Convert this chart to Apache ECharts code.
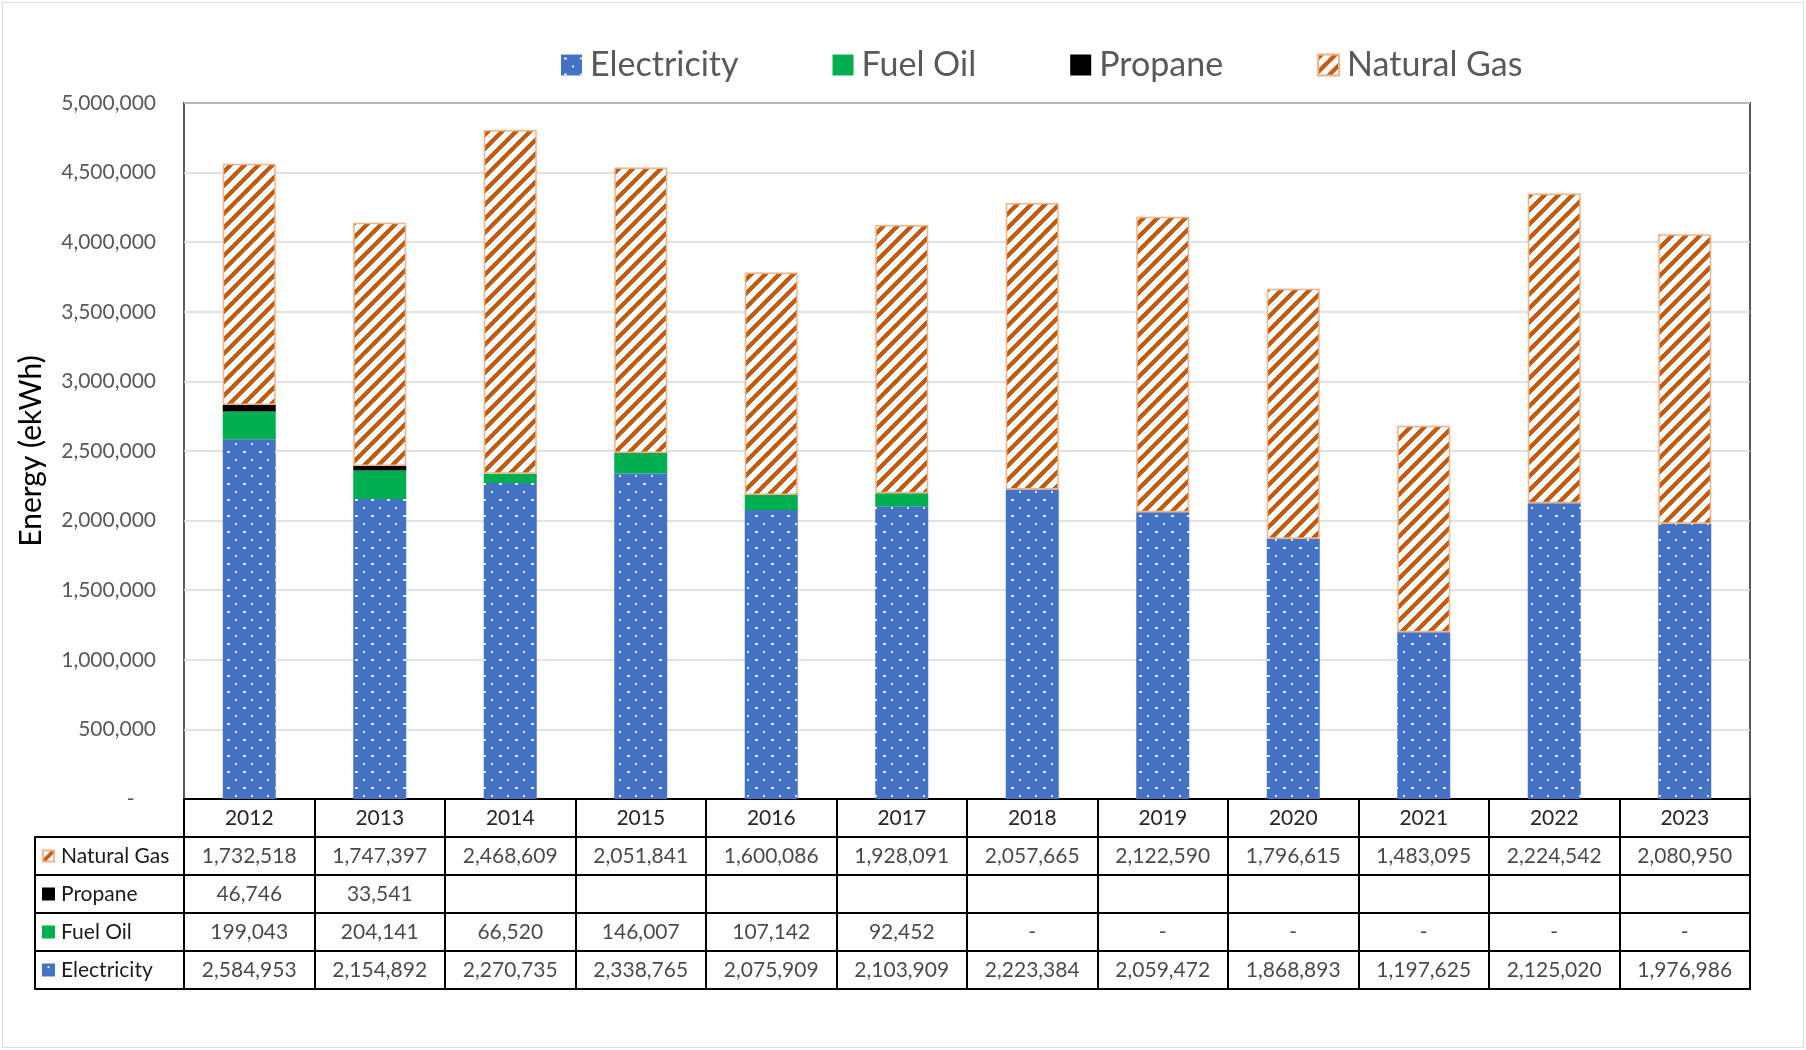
<!DOCTYPE html>
<html>
<head>
<meta charset="utf-8">
<title>Energy (ekWh)</title>
<script src="https://cdn.jsdelivr.net/npm/echarts@6/dist/echarts.min.js"></script>
<style>
  html, body { margin: 0; padding: 0; background: #fff; }
  #main { width: 1806px; height: 1050px; }
  #frame { position: absolute; left: 2px; top: 2px; width: 1800px; height: 1044px; border: 1px solid #dcdcdc; pointer-events: none; }
</style>
</head>
<body>
<div id="main"></div>
<div id="frame"></div>
<script>
  let years = ["2012", "2013", "2014", "2015", "2016", "2017", "2018", "2019", "2020", "2021", "2022", "2023"];
  let electricity = [2584953, 2154892, 2270735, 2338765, 2075909, 2103909, 2223384, 2059472, 1868893, 1197625, 2125020, 1976986];
  let fuelOil = [199043, 204141, 66520, 146007, 107142, 92452, 0, 0, 0, 0, 0, 0];
  let propane = [46746, 33541, null, null, null, null, null, null, null, null, null, null];
  let naturalGas = [1732518, 1747397, 2468609, 2051841, 1600086, 1928091, 2057665, 2122590, 1796615, 1483095, 2224542, 2080950];
  // table rows, top to bottom
  let tableRows = ["Natural Gas", "Propane", "Fuel Oil", "Electricity"];

  const FONT = "Lato";
  const BLUE = "#4472C4";
  const GREEN = "#00B050";
  const ORANGE = "#C55A11";
  const ORANGE_LIGHT = "#F4B183";

  // dotted fill for electricity
  function dotPattern() {
    let c = document.createElement("canvas");
    c.width = 16;
    c.height = 16;
    let ctx = c.getContext("2d");
    ctx.fillStyle = BLUE;
    ctx.fillRect(0, 0, 16, 16);
    ctx.fillStyle = "rgba(255,255,255,0.85)";
    ctx.fillRect(3, 3, 3, 2);
    ctx.fillRect(11, 11, 2, 2);
    return c;
  }

  // wide upward diagonal for natural gas
  function stripePattern() {
    let n = 14;
    let c = document.createElement("canvas");
    c.width = n;
    c.height = n;
    let ctx = c.getContext("2d");
    ctx.fillStyle = "#fff";
    ctx.fillRect(0, 0, n, n);
    ctx.fillStyle = ORANGE;
    for (let x = 0; x < n; x++) {
      for (let y = 0; y < n; y++) {
        if ((x + y) % n < 6) ctx.fillRect(x, y, 1, 1);
      }
    }
    return c;
  }

  function gasIcon() {
    let c = document.createElement("canvas");
    c.width = 14;
    c.height = 14;
    let ctx = c.getContext("2d");
    ctx.fillStyle = "#fff";
    ctx.fillRect(0, 0, 14, 14);
    ctx.strokeStyle = ORANGE;
    ctx.lineWidth = 4;
    ctx.beginPath();
    ctx.moveTo(2, 12);
    ctx.lineTo(12, 2);
    ctx.stroke();
    ctx.strokeStyle = ORANGE_LIGHT;
    ctx.lineWidth = 2;
    ctx.strokeRect(1, 1, 12, 12);
    return c;
  }

  function elecIcon() {
    let c = document.createElement("canvas");
    c.width = 14;
    c.height = 14;
    let ctx = c.getContext("2d");
    ctx.fillStyle = BLUE;
    ctx.fillRect(0, 0, 14, 14);
    ctx.fillStyle = "#fff";
    ctx.fillRect(6, 3, 2, 2);
    return c;
  }

  let rowValues = {
    "Natural Gas": naturalGas,
    "Propane": propane,
    "Fuel Oil": fuelOil,
    "Electricity": electricity,
  };
  let rowIcon = {
    "Natural Gas": "ng",
    "Propane": "pr",
    "Fuel Oil": "fo",
    "Electricity": "el",
  };

  // cells for the data table
  let cells = [];
  for (let r = 0; r < tableRows.length; r++) {
    let vals = rowValues[tableRows[r]];
    for (let i = 0; i < years.length; i++) {
      if (vals[i] === null) continue;
      cells.push([years[i], tableRows[r], vals[i]]);
    }
  }

  function fmt(v) {
    return v === 0 ? "-" : v.toLocaleString("en-US");
  }

  let chart = echarts.init(document.getElementById("main"));

  let iconBox = { width: 13, height: 13 };
  let option = {
    animation: false,
    textStyle: { fontFamily: FONT },
    legend: {
      data: ["Electricity", "Fuel Oil", "Propane", "Natural Gas"],
      left: 556,
      top: 43,
      itemWidth: 21,
      itemHeight: 21,
      itemGap: 94,
      icon: "rect",
      textStyle: { fontSize: 34, color: "#595959", fontFamily: FONT, padding: [0, 0, 0, 3] },
    },
    grid: [
      { left: 184, right: 56, top: 103, bottom: 251, show: true, borderColor: "#595959", borderWidth: 2 },
      { left: 184, right: 56, top: 837, height: 152, show: true, borderColor: "#000", borderWidth: 2 },
    ],
    xAxis: [
      {
        type: "category",
        gridIndex: 0,
        data: years,
        axisLine: { lineStyle: { color: "#000", width: 2 } },
        axisTick: { show: true, length: 38, interval: 0, lineStyle: { color: "#000", width: 2 } },
        axisLabel: { interval: 0, margin: 9, fontSize: 21, color: "#262626", fontFamily: FONT },
      },
      {
        type: "category",
        gridIndex: 1,
        data: years,
        axisLine: { show: false },
        axisTick: { show: false },
        axisLabel: { show: false },
        splitLine: { show: true, interval: 0, lineStyle: { color: "#000", width: 2 } },
      },
    ],
    yAxis: [
      {
        type: "value",
        gridIndex: 0,
        min: 0,
        max: 5000000,
        interval: 500000,
        name: "Energy (ekWh)",
        nameLocation: "middle",
        nameGap: 138,
        nameTextStyle: { fontSize: 30, color: "#000", fontFamily: FONT },
        axisLine: { show: false },
        axisTick: { show: false },
        axisLabel: {
          margin: 28,
          fontSize: 21,
          color: "#595959",
          fontFamily: FONT,
          formatter: function (v) {
            return v === 0 ? "-    " : v.toLocaleString("en-US");
          },
        },
        splitLine: { lineStyle: { color: "#D9D9D9", width: 1.5 } },
      },
      {
        type: "category",
        gridIndex: 1,
        data: tableRows,
        inverse: true,
        axisLine: { lineStyle: { color: "#000", width: 2 } },
        axisTick: { show: true, length: 149, interval: 0, lineStyle: { color: "#000", width: 2 } },
        splitLine: { show: true, interval: 0, lineStyle: { color: "#000", width: 2 } },
        axisLabel: {
          interval: 0,
          align: "left",
          margin: 142,
          fontSize: 21,
          color: "#1a1a1a",
          fontFamily: FONT,
          formatter: function (name) {
            return "{" + rowIcon[name] + "|}{t|" + name + "}";
          },
          rich: {
            ng: Object.assign({ backgroundColor: { image: gasIcon() } }, iconBox),
            pr: Object.assign({ backgroundColor: "#000" }, iconBox),
            fo: Object.assign({ backgroundColor: GREEN }, iconBox),
            el: Object.assign({ backgroundColor: { image: elecIcon() } }, iconBox),
            t: { fontSize: 21, color: "#1a1a1a", fontFamily: FONT, padding: [0, 0, 0, 6] },
          },
        },
      },
      {
        // left edge of the row label column
        type: "category",
        gridIndex: 1,
        data: tableRows,
        inverse: true,
        position: "left",
        offset: 149,
        axisLine: { lineStyle: { color: "#000", width: 2 } },
        axisTick: { show: false },
        axisLabel: { show: false },
      },
    ],
    series: [
      {
        name: "Electricity",
        type: "bar",
        stack: "total",
        barWidth: 53,
        itemStyle: { color: { image: dotPattern(), repeat: "repeat" } },
        data: electricity,
      },
      {
        name: "Fuel Oil",
        type: "bar",
        stack: "total",
        barWidth: 53,
        itemStyle: { color: GREEN },
        data: fuelOil,
      },
      {
        name: "Propane",
        type: "bar",
        stack: "total",
        barWidth: 53,
        itemStyle: { color: "#000" },
        data: propane,
      },
      {
        name: "Natural Gas",
        type: "bar",
        stack: "total",
        barWidth: 53,
        itemStyle: {
          color: { image: stripePattern(), repeat: "repeat" },
          borderColor: ORANGE_LIGHT,
          borderWidth: 1.5,
        },
        data: naturalGas,
      },
      {
        // table values
        name: "table",
        type: "scatter",
        xAxisIndex: 1,
        yAxisIndex: 1,
        symbolSize: 1,
        silent: true,
        itemStyle: { color: "rgba(0,0,0,0)" },
        label: {
          show: true,
          position: "inside",
          fontSize: 21,
          color: "#1a1a1a",
          fontFamily: FONT,
          formatter: function (p) {
            return fmt(p.value[2]);
          },
        },
        data: cells,
      },
    ],
  };
  chart.setOption(option);
</script>
</body>
</html>
